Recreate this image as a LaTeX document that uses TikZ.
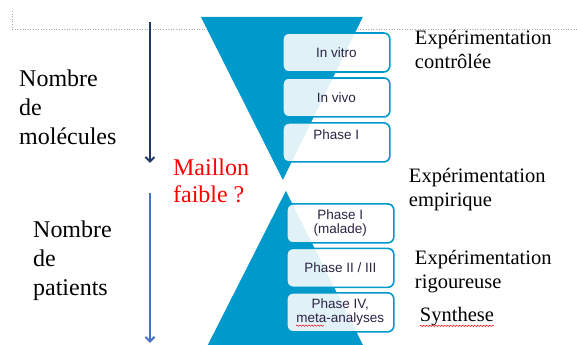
\documentclass[tikz,border=0pt]{standalone}
\usepackage{fontspec}
\setmainfont{Liberation Serif}
\newfontfamily\boxfont{Liberation Sans}
\usepackage{tikz}
\usetikzlibrary{calc,arrows.meta,decorations.pathmorphing}
\usepackage{xcolor}
\definecolor{funnel}{RGB}{0,153,204}
\definecolor{navyarrow}{RGB}{31,56,100}
\definecolor{bluearrow}{RGB}{68,114,196}
\definecolor{boxtext}{RGB}{45,35,70}

\begin{document}
\begin{tikzpicture}[x=1pt,y=-1pt]
    \tikzstyle{phase box}=[draw=funnel,line width=1.6pt,rounded corners=6,fill=white,fill opacity=.88,text opacity=1,
        minimum width=107pt,minimum height=39pt,inner sep=0,align=center,text=boxtext,font=\boxfont\fontsize{13.5}{14}\selectfont]
    \tikzstyle{big text}=[anchor=base west,inner sep=0,font=\fontsize{24}{29}\selectfont]
    \tikzstyle{side text}=[anchor=base west,inner sep=0,font=\fontsize{20.5}{24}\selectfont]
    \tikzstyle{down arrow}=[line width=2pt,-{Straight Barb[length=4.5pt,width=9pt]}]
    \tikzstyle{spell}=[red,line width=.5pt,decorate,decoration={snake,amplitude=.7pt,segment length=3pt}]

    \fill[white] (0,0) rectangle (577,345);
    % slide edge
    \draw[gray!70,dotted,line width=.6pt] (12,11) -- (12,29) -- (577,29);
    % funnels
    \fill[funnel] (201,17) -- (363,17) -- (283,180) -- cycle;
    \fill[funnel] (286,191) -- (363,345) -- (208,345) -- cycle;

    \node(vitro)[phase box] at (336.5,52.5) {In vitro};
    \node(vivo)[phase box] at (336.5,97.5) {In vivo};
    \node(ph1)[phase box,text depth=16pt] at (336.5,142.5) {Phase I};
    \node(ph1m)[phase box] at (340.5,223.5) {Phase I\\(malade)};
    \node(ph23)[phase box] at (340.5,268) {Phase II / III};
    \node(ph4)[phase box] at (340.5,312.5) {Phase IV,\\meta-analyses};

    % axes
    \coordinate(mol start) at (150,22);
    \coordinate(mol end) at (150,163);
    \coordinate(pat start) at (150,193);
    \coordinate(pat end) at (150,343);
    \draw[down arrow,navyarrow] (mol start) -- (mol end);
    \draw[down arrow,bluearrow] (pat start) -- (pat end);

    \node(mol)[big text] at (19,87) {\begin{tabular}[t]{@{}l@{}}
            Nombre\\ de\\ molécules
        \end{tabular}};
    \node(pat)[big text] at (33,238) {\begin{tabular}[t]{@{}l@{}}
            Nombre\\ de\\ patients
        \end{tabular}};
    \node(weak)[big text,red,font=\fontsize{24}{27}\selectfont] at (173,176) {\begin{tabular}[t]{@{}l@{}}
            Maillon\\ faible ?
        \end{tabular}};

    \node(ctrl)[side text] at (415,45) {\begin{tabular}[t]{@{}l@{}}
            Expérimentation\\ contrôlée
        \end{tabular}};
    \node(emp)[side text] at (409,183) {\begin{tabular}[t]{@{}l@{}}
            Expérimentation\\ empirique
        \end{tabular}};
    \node(rig)[side text] at (415,265) {\begin{tabular}[t]{@{}l@{}}
            Expérimentation\\ rigoureuse
        \end{tabular}};
    \node(syn)[side text] at (420,322) {Synthese};

    % spell check marks
    \draw[spell] ($(syn.base west)+(0,4)$) -- ($(syn.base east)+(0,4)$);
    \draw[spell] ($(ph4.south west)+(10,-7)$) -- ($(ph4.south west)+(38,-7)$);
\end{tikzpicture}
\end{document}
